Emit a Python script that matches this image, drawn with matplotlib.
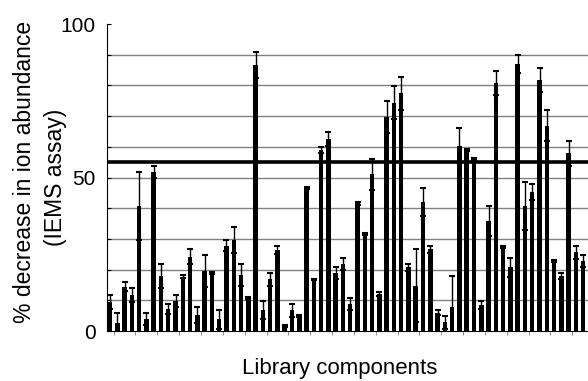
import matplotlib.pyplot as plt
import numpy as np

plt.rcParams['font.family'] = ['Liberation Sans', 'DejaVu Sans']

# % decrease per library component
values = [9.5, 2.7, 14.4, 11.7, 40.7, 3.9, 51.9, 17.9, 7.3, 9.8,
          17.7, 24.2, 5.2, 19.6, 18.8, 3.8, 27.8, 29.6, 18.2, 10.8,
          86.6, 6.8, 16.8, 26.4, 1.7, 6.8, 4.9, 46.7, 16.8, 59.0,
          62.5, 18.8, 21.8, 8.8, 41.6, 31.7, 51.0, 12.0, 69.8, 74.4,
          77.4, 20.7, 14.8, 42.1, 26.6, 6.0, 2.8, 7.9, 60.3, 59.0,
          56.0, 8.5, 35.8, 80.9, 27.5, 20.7, 86.9, 40.7, 45.2, 81.8,
          66.9, 22.9, 17.9, 57.9, 25.6, 22.9]
errors = [2.2, 3.1, 1.5, 2.2, 11.2, 1.9, 2.0, 3.9, 1.6, 1.9,
          0.5, 2.4, 2.7, 5.2, 0.3, 3.0, 1.8, 4.2, 3.6, 0.3,
          4.2, 3.0, 2.0, 1.3, 0.3, 2.1, 0.3, 0.3, 0.2, 1.0,
          2.4, 1.9, 1.9, 2.0, 0.5, 0.3, 5.0, 0.7, 5.2, 5.5,
          5.4, 1.1, 11.8, 4.6, 1.1, 0.8, 2.1, 10.0, 5.7, 0.3,
          0.3, 1.3, 4.9, 3.9, 0.3, 3.0, 3.0, 7.9, 2.6, 4.0,
          5.1, 0.3, 0.9, 4.1, 2.1, 1.9]
threshold = 55

x = np.arange(len(values))

fig = plt.figure(figsize=(5.88, 3.81), dpi=100)
ax = fig.add_axes([0.1815, 0.1312, 0.8185, 0.8058])

for v in range(10, 100, 10):
    ax.axhline(v, color='#808080', lw=1.0, zorder=0)

ax.bar(x, values, width=0.62, color='black', zorder=2)
ax.errorbar(x, values, yerr=errors, fmt='none', ecolor='black',
            elinewidth=1.0, capsize=2.2, capthick=1.5, zorder=3)
ax.axhline(threshold, color='black', lw=2.6, zorder=4)

ax.set_xlim(-0.45, 65.66)
ax.set_ylim(0, 100)

ax.set_yticks(range(0, 101, 10))
ax.set_yticklabels(['0' if v == 0 else '50' if v == 50 else '100' if v == 100 else ''
                    for v in range(0, 101, 10)], fontsize=15)
ax.tick_params(axis='y', direction='in', length=3, width=0.8, pad=8)

ax.set_xticks(x[::3] + 0.5)
ax.set_xticklabels([])
ax.tick_params(axis='x', direction='out', length=3, width=0.6, color='#808080')

for s in ['top', 'right']:
    ax.spines[s].set_visible(False)
ax.spines['left'].set_linewidth(0.8)
ax.spines['bottom'].set_linewidth(0.8)

# axis titles placed in figure coords, y title as two separate lines
fig.text(0.042, 0.55, '% decrease in ion abundance', fontsize=16.5,
         rotation=90, ha='center', va='center')
fig.text(0.094, 0.535, '(IEMS assay)', fontsize=16.5,
         rotation=90, ha='center', va='center')
fig.text(0.577, 0.018, 'Library components', fontsize=16,
         ha='center', va='baseline')

fig.savefig('out.png', dpi=100)
